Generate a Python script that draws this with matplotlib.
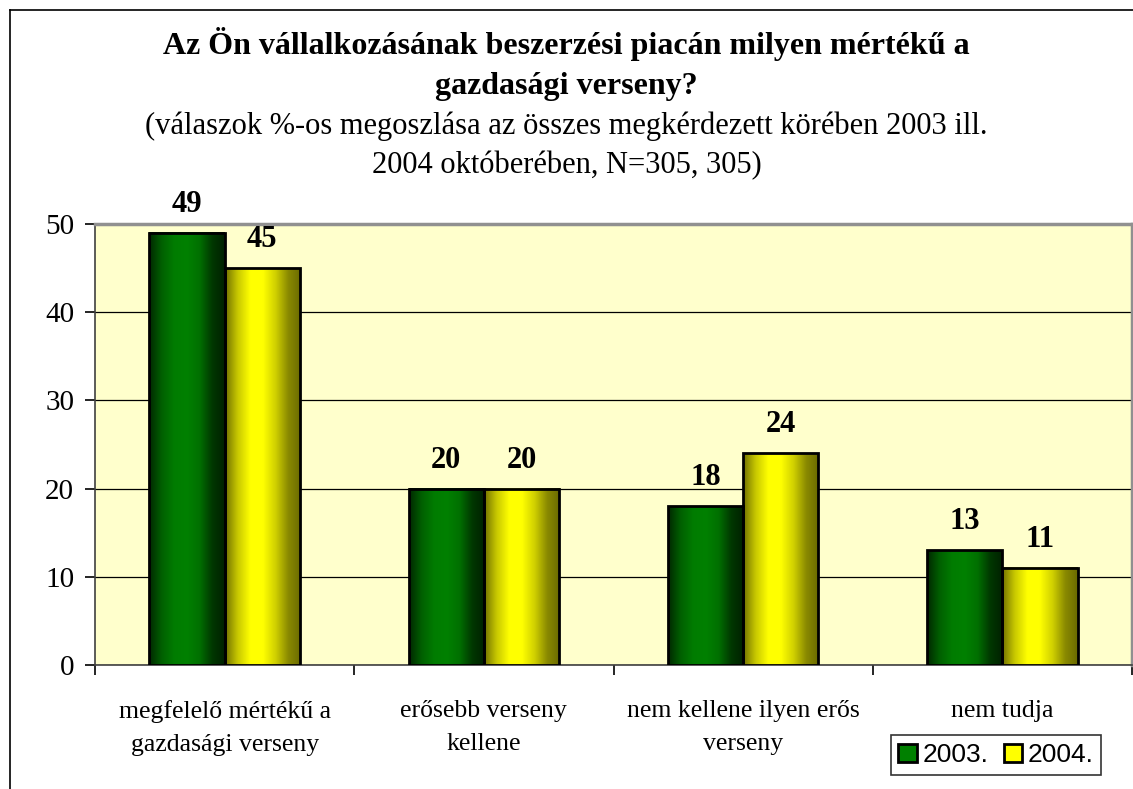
import matplotlib.pyplot as plt
import numpy as np
from matplotlib.colors import LinearSegmentedColormap
from matplotlib.lines import Line2D
from matplotlib.patches import Rectangle

categories = ["megfelelő mértékű a\ngazdasági verseny", "erősebb verseny\nkellene",
              "nem kellene ilyen erős\nverseny", "nem tudja"]
series_names = ["2003.", "2004."]
values_2003 = [49, 20, 18, 13]
values_2004 = [45, 20, 24, 11]
yticks = [0, 10, 20, 30, 40, 50]

title = "Az Ön vállalkozásának beszerzési piacán milyen mértékű a\ngazdasági verseny?"
subtitle = "(válaszok %-os megoszlása az összes megkérdezett körében 2003 ill.\n2004 októberében, N=305, 305)"

# cylinder-like horizontal shading
green_cmap = LinearSegmentedColormap.from_list(
    "greenbar", ["#002800", "#006000", "#007c00", "#008000", "#007000", "#003800", "#002000"])
yellow_cmap = LinearSegmentedColormap.from_list(
    "yellowbar", ["#707000", "#c8c800", "#ffff00", "#ffff00", "#d0d000", "#8a8a00", "#6a6a00"])

serif = "Liberation Serif"
sans = "Liberation Sans"

fig = plt.figure(figsize=(11.33, 7.89), dpi=100)
W, H = 1133, 789
ax = fig.add_axes([95 / W, 1 - 665 / H, (1132 - 95) / W, (665 - 224) / H])
ax.set_facecolor("#FFFFCC")

# outer chart frame
fig.add_artist(Line2D([10 / W, 10 / W], [0, 1 - 10 / H], color="black", lw=1.2, transform=fig.transFigure))
fig.add_artist(Line2D([10 / W, 1], [1 - 10 / H, 1 - 10 / H], color="black", lw=1.2, transform=fig.transFigure))

x = np.arange(len(categories))
bw = 0.29
grad = np.linspace(0, 1, 256).reshape(1, -1)

bars1 = ax.bar(x - bw / 2, values_2003, bw, facecolor="none", edgecolor="black", linewidth=2, zorder=4)
bars2 = ax.bar(x + bw / 2, values_2004, bw, facecolor="none", edgecolor="black", linewidth=2, zorder=4)

for bars, cmap in [(bars1, green_cmap), (bars2, yellow_cmap)]:
    for b in bars:
        ax.imshow(grad, extent=[b.get_x(), b.get_x() + b.get_width(), 0, b.get_height()],
                  aspect="auto", cmap=cmap, zorder=3, interpolation="bilinear")
        ax.annotate(f"{b.get_height():g}", (b.get_x() + b.get_width() / 2, b.get_height()),
                    xytext=(0, 10), textcoords="offset points", ha="center", va="bottom",
                    fontsize=22, fontweight="bold", family=serif)

ax.set_xlim(-0.5, len(categories) - 0.5)
ax.set_ylim(0, 50)
ax.set_yticks(yticks)
ax.set_yticklabels([str(v) for v in yticks], fontsize=21, family=serif)
ax.yaxis.grid(True, color="black", linewidth=0.9, zorder=1)
ax.set_axisbelow(True)

ax.set_xticks(np.arange(len(categories) + 1) - 0.5)
ax.set_xticklabels([])
ax.set_xticks(x, minor=True)
ax.set_xticklabels(categories, minor=True, fontsize=18.5, family=serif, linespacing=1.65)
ax.tick_params(axis="x", which="minor", length=0, pad=25)
ax.tick_params(axis="x", which="major", length=7, width=1.2, direction="out")
ax.tick_params(axis="y", length=7, width=1.2, direction="out", pad=8)

ax.spines["left"].set_color("#404040")
ax.spines["bottom"].set_color("#404040")
ax.spines["left"].set_linewidth(1.2)
ax.spines["bottom"].set_linewidth(1.2)
for s in ["top", "right"]:
    ax.spines[s].set_color("#909090")
    ax.spines[s].set_linewidth(2.5)

fig.text(0.5, 1 - 64 / H, title, ha="center", va="center", fontsize=23, fontweight="bold",
         family=serif, linespacing=1.5)
fig.text(0.5, 1 - 146 / H, subtitle, ha="center", va="center", fontsize=22,
         family=serif, linespacing=1.45)

handles = [Rectangle((0, 0), 1, 1, facecolor="#008000", edgecolor="black", lw=2),
           Rectangle((0, 0), 1, 1, facecolor="#ffff00", edgecolor="black", lw=2)]
leg = fig.legend(handles, series_names, loc="center", bbox_to_anchor=(996 / W, 1 - 755 / H),
                 ncol=2, frameon=True, fancybox=False, edgecolor="black",
                 prop={"family": sans, "size": 19}, handlelength=0.7, handleheight=0.7,
                 handletextpad=0.2, columnspacing=0.6, borderpad=0.3, borderaxespad=0)
leg.get_frame().set_linewidth(1.2)

fig.savefig("out.png", dpi=100)
